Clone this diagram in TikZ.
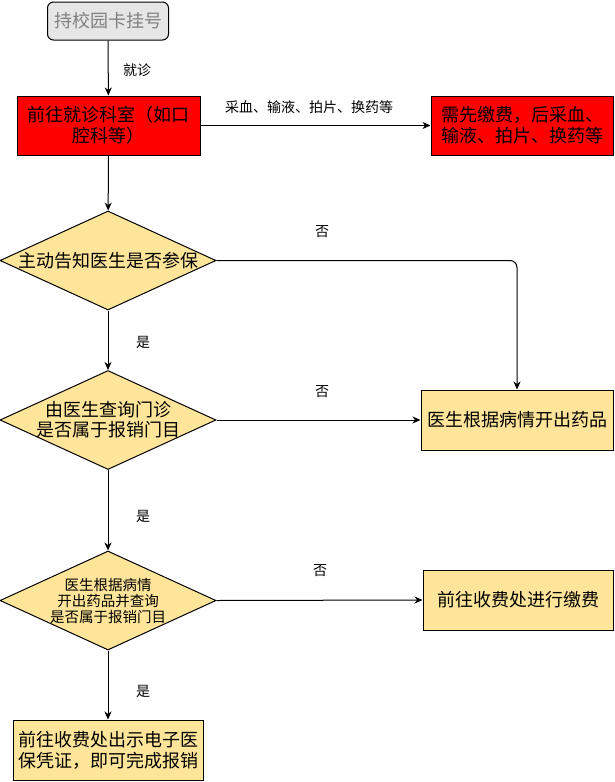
\documentclass[tikz,border=0pt]{standalone}
\usepackage{fontspec}
\setmainfont{Noto Sans CJK SC}
\usetikzlibrary{shapes.geometric,arrows.meta}
\definecolor{boxred}{HTML}{FF0000}
\definecolor{boxyel}{HTML}{FFE599}
\definecolor{boxgray}{HTML}{E6E6E6}
\definecolor{txtgray}{HTML}{808080}
\tikzset{
  base/.style={draw=black, line width=1pt, inner sep=0pt, align=center, font=\fontsize{18}{21}\selectfont},
  startbox/.style={base, rounded corners=6pt, fill=boxgray, text=txtgray, minimum width=121pt, minimum height=38pt},
  redbox/.style={base, fill=boxred, minimum height=59pt},
  yelbox/.style={base, fill=boxyel, minimum height=60pt},
  decision/.style={draw=black, line width=1pt, fill=boxyel, shape=diamond, inner sep=0pt, minimum width=216pt, minimum height=99pt},
  dtext/.style={inner sep=0pt, align=center, font=\fontsize{18}{20}\selectfont},
  dtextsmall/.style={inner sep=0pt, align=center, font=\fontsize{14.5}{16}\selectfont},
  lbl/.style={inner sep=0pt, font=\fontsize{14}{16}\selectfont},
  conn/.style={draw=black, line width=1pt, -{Stealth[length=8pt,width=7pt,inset=2.5pt]}},
}
\begin{document}
\begin{tikzpicture}[x=1pt,y=-1pt]
\useasboundingbox (0,0) rectangle (614,782);
\node[startbox] (start) at (108,21) {持校园卡挂号};
\node[redbox, minimum width=183pt] (dept) at (108.5,125.5) {前往就诊科室（如口\\腔科等）};
\node[redbox, minimum width=182pt] (pay1) at (522,125.5) {需先缴费，后采血、\\输液、拍片、换药等};
\node[decision] (d1) at (108,260.5) {};
\node[dtext] at (d1.center) {主动告知医生是否参保};
\node[decision] (d2) at (108,420) {};
\node[dtext] at (d2.center) {由医生查询门诊\\是否属于报销门目};
\node[decision] (d3) at (108,600.5) {};
\node[dtextsmall] at (d3.center) {医生根据病情\\开出药品并查询\\是否属于报销门目};
\node[yelbox, minimum width=192pt] (med) at (517,420) {医生根据病情开出药品};
\node[yelbox, minimum width=190pt] (pay2) at (518,600) {前往收费处进行缴费};
\node[yelbox, minimum width=190pt] (done) at (108,750) {前往收费处出示电子医\\保凭证，即可完成报销};

\draw[conn] (start) -- (dept);
\draw[conn] (dept) -- (pay1);
\draw[conn] (dept) -- (d1);
\draw[conn, rounded corners=7pt] (d1.east) -| (med.north);
\draw[conn] (d1) -- (d2);
\draw[conn] (d2.east) -- (med.west);
\draw[conn] (d2) -- (d3);
\draw[conn] (d3.east) -- (pay2.west);
\draw[conn] (d3) -- (done);

\node[lbl] (l1) at (137,70) {就诊};
\node[lbl] (l2) at (309,107) {采血、输液、拍片、换药等};
\node[lbl] (l3) at (322,232) {否};
\node[lbl] (l4) at (143,342) {是};
\node[lbl] (l5) at (322,392) {否};
\node[lbl] (l6) at (143,516) {是};
\node[lbl] (l7) at (320,571) {否};
\node[lbl] (l8) at (143,691) {是};
\end{tikzpicture}
\end{document}
